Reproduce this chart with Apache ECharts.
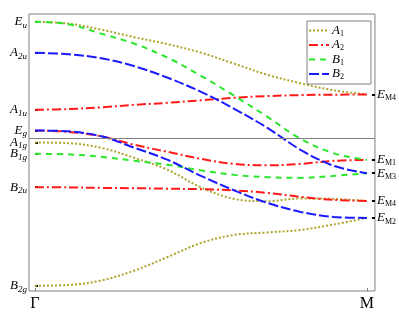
<!DOCTYPE html>
<html>
<head>
<meta charset="utf-8">
<script src="https://cdn.jsdelivr.net/npm/echarts@6/dist/echarts.min.js"></script>
<style>html,body{margin:0;padding:0;background:#fff;}#c{width:399px;height:320px;}</style>
</head>
<body>
<div id="c"></div>
<script>
// path coordinate from Γ (0) to M (1)
const kPath = [0, 0.1, 0.2, 0.3, 0.4, 0.5, 0.6, 0.7, 0.8, 0.9, 1];

// energies (arbitrary units)
const A1_upper  = [269, 267.2, 261, 253.5, 246.5, 238.1, 227.1, 216, 207.5, 200.5, 196.3];
const A1_middle = [148.3, 147.7, 143, 133, 121, 103.5, 92, 89.7, 92.5, 92, 90];
const A1_lower  = [5.3, 6, 10.5, 20.5, 34, 48, 56, 58.5, 61, 66.5, 73];
const A2_upper  = [181, 181.7, 183.5, 186, 188, 190.5, 193, 194.7, 195.7, 196.1, 196.3];
const A2_middle = [160.3, 159, 154.5, 146, 139, 132, 127, 125.5, 127, 130, 131];
const A2_lower  = [103.7, 103.5, 103, 102.7, 102.2, 101.7, 100.5, 98, 94, 91, 90];
const B1_upper  = [269, 266.5, 257, 247, 233, 215, 195, 174, 152, 137.5, 131];
const B1_lower  = [137, 136.5, 134, 130, 126, 120.5, 116, 113.7, 113, 115, 117.7];
const B2_upper  = [238, 236.5, 232.5, 224.5, 213, 199, 182, 163, 141, 125, 117.7];
const B2_lower  = [160.3, 159.5, 154.5, 143, 131, 115, 100.5, 88, 79, 74, 73];

const separatorLevel = 152.5;

const leftTickValues = [269, 238, 181, 160.3, 148.3, 137, 103.7, 5.3];
const leftTickNames  = [['E','u'], ['A','2u'], ['A','1u'], ['E','g'], ['A','1g'], ['B','1g'], ['B','2u'], ['B','2g']];
const rightTickValues = [196.3, 131, 117.7, 90, 73];
const rightTickNames  = [['E','M4'], ['E','M1'], ['E','M3'], ['E','M4'], ['E','M2']];
const xTickValues = [0, 1];
const xTickLabels = ['Γ', 'M'];

const seriesNames = ['A1', 'A2', 'B1', 'B2'];
const legendParts = {A1: ['A','1'], A2: ['A','2'], B1: ['B','1'], B2: ['B','2']};

const styles = {
  A1: {color: '#aca52a', type: [2, 2], width: 2},
  A2: {color: '#ff1a1a', type: [9, 3, 2, 3], width: 2},
  B1: {color: '#2ae62a', type: [6, 5], width: 2},
  B2: {color: '#1a1aff', type: [10, 3], width: 2}
};

const branches = [
  ['A1', A1_upper], ['A1', A1_middle], ['A1', A1_lower],
  ['A2', A2_upper], ['A2', A2_middle], ['A2', A2_lower],
  ['B1', B1_upper], ['B1', B1_lower],
  ['B2', B2_upper], ['B2', B2_lower]
];

function closestIndex(arr, v) {
  let b = 0;
  for (let i = 1; i < arr.length; i++) if (Math.abs(arr[i] - v) < Math.abs(arr[b] - v)) b = i;
  return b;
}

// legend icon: a short stroke drawn with the series' dash pattern
function legendIcon(st) {
  const c = document.createElement('canvas');
  c.width = 20; c.height = 6;
  const g = c.getContext('2d');
  g.strokeStyle = st.color; g.lineWidth = 2;
  g.setLineDash(st.type);
  g.beginPath(); g.moveTo(0, 3); g.lineTo(20, 3); g.stroke();
  return 'image://' + c.toDataURL();
}

const serif = 'Liberation Serif';
const richLeft = {
  m: {fontFamily: serif, fontStyle: 'italic', fontSize: 13, color: '#000'},
  s: {fontFamily: serif, fontStyle: 'italic', fontSize: 9, color: '#000', padding: [7, 0, 0, 0]}
};
const richRight = {
  m: {fontFamily: serif, fontStyle: 'italic', fontSize: 13, color: '#000'},
  s: {fontFamily: serif, fontSize: 8, color: '#000', padding: [7, 0, 0, 0]}
};

const series = branches.map(([name, arr]) => ({
  name: name,
  type: 'line',
  data: kPath.map((k, i) => [k, arr[i]]),
  showSymbol: false,
  symbol: 'none',
  smooth: 0.35,
  lineStyle: styles[name],
  itemStyle: {color: styles[name].color},
  silent: true,
  z: 3
}));
series.push({
  name: 'sep', type: 'line', data: [], silent: true,
  markLine: {silent: true, symbol: 'none', label: {show: false},
    lineStyle: {color: '#808080', type: 'solid', width: 1},
    data: [{yAxis: separatorLevel}]}
});

const chart = echarts.init(document.getElementById('c'), null, {renderer: 'canvas'});
chart.setOption({
  animation: false,
  backgroundColor: '#fff',
  grid: {left: 29, top: 14, width: 347, height: 277, show: true, borderColor: '#808080', borderWidth: 1, backgroundColor: 'transparent'},
  legend: {
    data: seriesNames.map(n => ({name: n, icon: legendIcon(styles[n])})),
    orient: 'vertical',
    left: 307, top: 21,
    itemWidth: 20, itemHeight: 6, itemGap: 1,
    padding: [3, 27, 3, 2],
    borderColor: '#808080', borderWidth: 1, backgroundColor: '#fff',
    formatter: n => '{m|' + legendParts[n][0] + '}{s|' + legendParts[n][1] + '}',
    textStyle: {padding: [0, 0, 0, -2], rich: {
      m: {fontFamily: serif, fontStyle: 'italic', fontSize: 13, color: '#000'},
      s: {fontFamily: serif, fontSize: 8, color: '#000', padding: [6, 0, 0, 0]}
    }}
  },
  xAxis: {
    type: 'value', min: -0.018, max: 1.024,
    axisLine: {show: false}, splitLine: {show: false},
    axisTick: {show: true, inside: true, length: 3, customValues: xTickValues, lineStyle: {color: '#808080'}},
    axisLabel: {customValues: xTickValues, margin: 5, fontFamily: serif, fontSize: 16, color: '#000',
      formatter: v => xTickLabels[closestIndex(xTickValues, v)]}
  },
  yAxis: [{
    type: 'value', min: 0, max: 276.7, position: 'left',
    axisLine: {show: false}, splitLine: {show: false},
    axisTick: {show: true, inside: true, length: 3, customValues: leftTickValues, lineStyle: {color: '#000', width: 2}},
    axisLabel: {customValues: leftTickValues, margin: 2, rich: richLeft,
      formatter: v => { const p = leftTickNames[closestIndex(leftTickValues, v)]; return '{m|' + p[0] + '}{s|' + p[1] + '}'; }}
  }, {
    type: 'value', min: 0, max: 276.7, position: 'right',
    axisLine: {show: false}, splitLine: {show: false},
    axisTick: {show: true, inside: true, length: 3, customValues: rightTickValues, lineStyle: {color: '#000', width: 2}},
    axisLabel: {customValues: rightTickValues, margin: 2, rich: richRight,
      formatter: v => { const p = rightTickNames[closestIndex(rightTickValues, v)]; return '{m|' + p[0] + '}{s|' + p[1] + '}'; }}
  }],
  series: series
});
</script>
</body>
</html>
